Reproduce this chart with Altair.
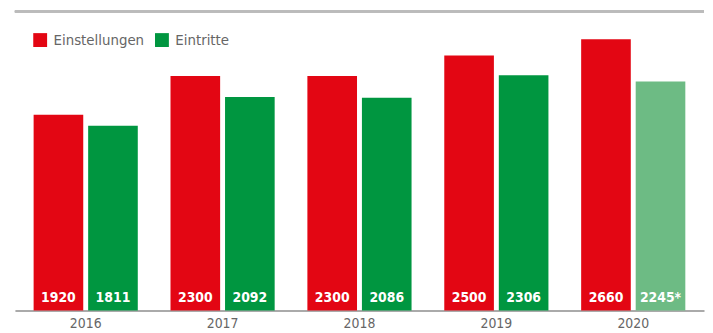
import altair as alt
import pandas as pd

years = ["2016", "2017", "2018", "2019", "2020"]
einstellungen = [1920, 2300, 2300, 2500, 2660]
eintritte = [1811, 2092, 2086, 2306, 2245]
eintritte_labels = ["1811", "2092", "2086", "2306", "2245*"]
series = ["Einstellungen", "Eintritte"]

rows = []
for i, y in enumerate(years):
    rows.append({"Jahr": y, "Serie": "Einstellungen", "Farbe": "Einstellungen",
                 "Wert": einstellungen[i], "Label": str(einstellungen[i])})
    rows.append({"Jahr": y, "Serie": "Eintritte",
                 "Farbe": "Eintritte (vorläufig)" if y == "2020" else "Eintritte",
                 "Wert": eintritte[i], "Label": eintritte_labels[i]})
df = pd.DataFrame(rows)

FONT = "DejaVu Sans Condensed, Liberation Sans Narrow, sans-serif"

x = alt.X("Jahr:N", sort=years, title=None,
          scale=alt.Scale(paddingInner=0, paddingOuter=0.017),
          axis=alt.Axis(labelAngle=0, ticks=False, domainColor="#aaaaaa", domainWidth=2,
                        labelColor="#666666", labelFontSize=14, labelFont=FONT,
                        labelPadding=6))
xo = alt.XOffset("Serie:N", sort=series,
                 scale=alt.Scale(paddingInner=0.09, paddingOuter=0.3))

bars = alt.Chart(df).mark_bar().encode(
    x=x, xOffset=xo,
    y=alt.Y("Wert:Q", scale=alt.Scale(domain=[0, 2930], nice=False), axis=None),
    color=alt.Color("Farbe:N",
                    scale=alt.Scale(domain=["Einstellungen", "Eintritte", "Eintritte (vorläufig)"],
                                    range=["#e30613", "#009640", "#6dbb84"]),
                    legend=alt.Legend(values=["Einstellungen", "Eintritte"], title=None,
                                      orient="none", legendX=18, legendY=21,
                                      direction="horizontal", symbolType="square",
                                      symbolSize=196, symbolStrokeWidth=0,
                                      symbolOpacity=1,
                                      labelFont=FONT, labelFontSize=15,
                                      labelColor="#666666", columnPadding=10,
                                      labelOffset=6)),
)

labels = alt.Chart(df).mark_text(color="white", fontWeight="bold", fontSize=14,
                                 font=FONT, baseline="middle", dy=-13).encode(
    x=x, xOffset=xo,
    y=alt.Y(datum=0),
    text="Label:N",
)

topline = alt.Chart(df).mark_rule(color="#bbbbbb", strokeWidth=2).encode(
    x=alt.value(0), x2=alt.value(696), y=alt.value(0)
)

chart = alt.layer(bars, labels, topline).properties(
    width=696, height=302,
    padding={"left": 6, "top": 1, "right": 0, "bottom": 0},
    background="white",
).configure_view(stroke=None)

chart.save("out.html", embed_options={"renderer": "svg", "actions": False})
